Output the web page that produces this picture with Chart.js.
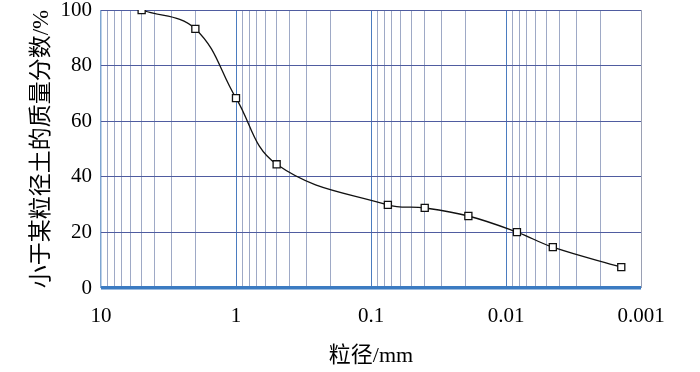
<!DOCTYPE html>
<html>
<head>
<meta charset="utf-8">
<script src="https://cdn.jsdelivr.net/npm/chart.js@4/dist/chart.umd.min.js"></script>
<style>
  html, body { margin: 0; padding: 0; background: #fff; }
  #wrap { width: 700px; height: 372px; }
</style>
</head>
<body>
<div id="wrap"><canvas id="gradingChart"></canvas></div>
<script>
// grain size (mm) and cumulative passing (%)
const grainSize = [5, 2, 1, 0.5, 0.075, 0.04, 0.019, 0.0083, 0.0045, 0.0014];
const passing = [100, 93.2, 68.3, 44.5, 29.9, 28.8, 25.9, 20.1, 14.7, 7.5];

// axis ticks
const xDecades = [10, 1, 0.1, 0.01, 0.001];
const xMultipliers = [2, 3, 4, 5, 6, 7, 8, 9];
const yTicks = [0, 20, 40, 60, 80, 100];

const xTickValues = [...xDecades];
xDecades.slice(1).forEach(d => {
  xMultipliers.forEach(m => xTickValues.push(Number((m * d).toPrecision(3))));
});
xTickValues.sort((a, b) => a - b);

const serif = "'Liberation Serif', 'Noto Sans CJK SC', serif";
const ctx = document.getElementById('gradingChart');

new Chart(ctx, {
  type: 'line',
  data: {
    datasets: [{
      data: grainSize.map((g, i) => ({ x: g, y: passing[i] })),
      borderColor: '#111',
      borderWidth: 1.3,
      tension: 0.4,
      pointStyle: 'rect',
      pointRadius: 5,
      pointBorderWidth: 1.3,
      pointBorderColor: '#111',
      pointBackgroundColor: '#fff'
    }]
  },
  options: {
    responsive: true,
    maintainAspectRatio: false,
    animation: false,
    layout: { padding: { left: 0, right: 59, top: 10, bottom: 0 } },
    plugins: { legend: { display: false }, tooltip: { enabled: false } },
    scales: {
      x: {
        type: 'logarithmic',
        reverse: true,
        min: 0.001,
        max: 10,
        afterBuildTicks: s => { s.ticks = xTickValues.map(v => ({ value: v })); },
        afterFit: s => { s.height = 84; s.paddingLeft = 0; s.paddingRight = 0; },
        border: { display: false },
        grid: {
          drawTicks: false,
          color: c => {
            const v = c.tick && c.tick.value;
            if (v === 10) return '#7fa6d2';
            if (v === 0.001) return '#9aa0b4';
            return xDecades.includes(v) ? '#4b7cc0' : '#9ea9c6';
          },
          lineWidth: c => (c.tick && c.tick.value === 10 ? 1.5 : 1)
        },
        ticks: {
          autoSkip: false,
          maxRotation: 0,
          padding: 16,
          color: '#000',
          font: { family: serif, size: 21 },
          callback: v => (xDecades.includes(v) ? String(v) : '')
        },
        title: {
          display: true,
          text: '粒径/mm',
          color: '#000',
          font: { family: serif, size: 22 },
          padding: { top: 0, bottom: 3 }
        }
      },
      y: {
        min: 0,
        max: 100,
        afterBuildTicks: s => { s.ticks = yTicks.map(v => ({ value: v })); },
        afterFit: s => { s.width = 101; s.paddingTop = 0; s.paddingBottom = 0; },
        border: { display: false },
        grid: {
          drawTicks: false,
          color: c => (c.tick && c.tick.value === 0 ? '#3b7bc2' : '#4f5ca0'),
          lineWidth: c => (c.tick && c.tick.value === 0 ? 3.5 : 1)
        },
        ticks: {
          padding: 9,
          color: '#000',
          font: { family: serif, size: 21 }
        },
        title: {
          display: true,
          text: '小于某粒径土的质量分数/%',
          color: '#000',
          font: { family: serif, size: 23 },
          padding: { top: 28, bottom: 0 }
        }
      }
    }
  }
});
</script>
</body>
</html>
